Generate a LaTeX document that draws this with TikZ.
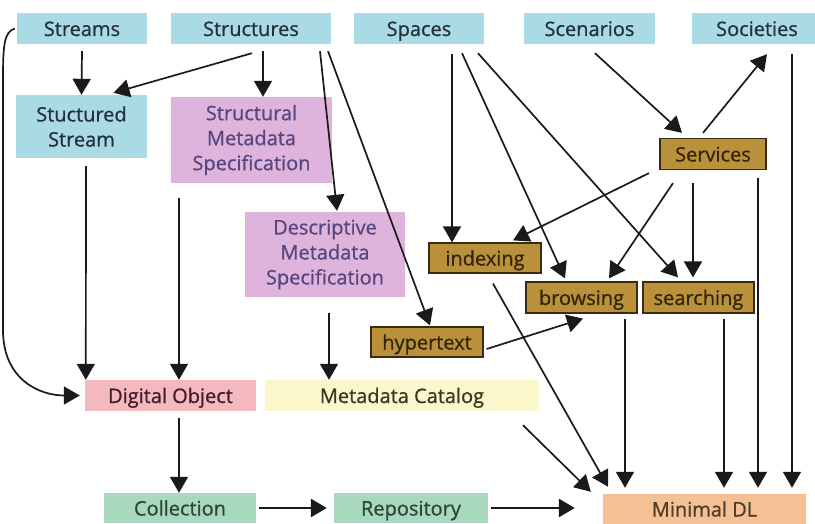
\documentclass[tikz,border=0pt]{standalone}
\usepackage{fontspec}
\setmainfont{Open Sans}[FakeBold=0.8]
\usepackage{tikz}
\usetikzlibrary{arrows.meta}

\begin{document}
\begin{tikzpicture}[x=1pt,y=-1pt,
  box/.style={inner sep=0pt,align=center,font=\fontsize{20}{25}\selectfont},
  one/.style={text height=19pt,text depth=4pt},
  bluebox/.style={box,fill=lblue,text=tblue},
  pinkbox/.style={box,fill=lpink,text=tpink},
  brownbox/.style={box,one,fill=brown,draw=bdark,line width=1.2pt,text=tbrown},
  arr/.style={draw=adark,line width=1.7pt,-{Triangle[width=18pt,length=16pt]}},
  fat/.style={arr,line width=2.6pt}]
\definecolor{lblue}{RGB}{170,218,228}
\definecolor{tblue}{RGB}{36,48,58}
\definecolor{lpink}{RGB}{222,180,220}
\definecolor{tpink}{RGB}{88,70,126}
\definecolor{brown}{RGB}{184,145,58}
\definecolor{bdark}{RGB}{58,42,18}
\definecolor{tbrown}{RGB}{52,36,10}
\definecolor{dpink}{RGB}{244,185,190}
\definecolor{tdpink}{RGB}{66,28,42}
\definecolor{lyellow}{RGB}{250,247,205}
\definecolor{tyellow}{RGB}{56,56,32}
\definecolor{lgreen}{RGB}{168,216,190}
\definecolor{tgreen}{RGB}{42,72,56}
\definecolor{lorange}{RGB}{245,192,148}
\definecolor{torange}{RGB}{76,62,42}
\definecolor{adark}{RGB}{26,26,26}
\useasboundingbox (0,0) rectangle (815,524);
\node[bluebox,one,minimum width=130pt,minimum height=31pt] (v1) at (82,28.5) {Streams};
\node[bluebox,one,minimum width=160pt,minimum height=31pt] (v2) at (251,28.5) {Structures};
\node[bluebox,one,minimum width=130pt,minimum height=31pt] (v3) at (419,28.5) {Spaces};
\node[bluebox,one,minimum width=131pt,minimum height=31pt] (v4) at (589.5,28.5) {Scenarios};
\node[bluebox,one,minimum width=130pt,minimum height=31pt] (v5) at (757,28.5) {Societies};
\node[bluebox,minimum width=131pt,minimum height=63pt] (v6) at (81.5,126.5) {Stuctured\\Stream};
\node[pinkbox,minimum width=161pt,minimum height=86pt] (v7) at (251.5,140) {Structural\\Metadata\\Specification};
\node[pinkbox,minimum width=160pt,minimum height=85pt] (v8) at (325,254.5) {Descriptive\\Metadata\\Specification};
\node[brownbox,minimum width=106pt,minimum height=31pt] (v9) at (713,154) {Services};
\node[brownbox,minimum width=112pt,minimum height=30pt] (v10) at (485,258) {indexing};
\node[brownbox,minimum width=111pt,minimum height=31pt] (v11) at (581.5,297.5) {browsing};
\node[brownbox,minimum width=111pt,minimum height=31pt] (v12) at (698.5,297.5) {searching};
\node[brownbox,minimum width=112pt,minimum height=30pt] (v13) at (427,342) {hypertext};
\node[box,one,fill=dpink,text=tdpink,minimum width=171pt,minimum height=31pt] (v14) at (170.5,395.5) {Digital Object};
\node[box,one,fill=lyellow,text=tyellow,minimum width=274pt,minimum height=31pt] (v15) at (402,395.5) {Metadata Catalog};
\node[box,one,fill=lgreen,text=tgreen,minimum width=152pt,minimum height=30pt] (v16) at (180,508) {Collection};
\node[box,one,fill=lgreen,text=tgreen,minimum width=154pt,minimum height=30pt] (v17) at (411,508) {Repository};
\node[box,one,fill=lorange,text=torange,minimum width=203pt,minimum height=30pt] (v18) at (704.5,509) {Minimal DL};
\draw[arr] ([shift={(0,7)}]v1.south) -- (v6.north);
\draw[arr] ([shift={(1,9)}]v2.south) -- ([shift={(32,-2)}]v6.north);
\draw[arr] ([shift={(12,7)}]v2.south) -- ([shift={(11.5,0)}]v7.north);
\draw[arr] ([shift={(69,7)}]v2.south) -- ([shift={(12,-1)}]v8.north);
\draw[arr] ([shift={(77,7)}]v2.south) -- ([shift={(3,-1)}]v13.north);
\draw[arr] ([shift={(-2,0)}]v1.west) .. controls (4,32) and (3,45) .. (3,80) -- (3,330) .. controls (3,380) and (40,395.5) .. ([shift={(-5,0)}]v14.west);
\draw[arr] ([shift={(4.5,8)}]v6.south) -- ([shift={(1,0)}]v14.north west);
\draw[arr] ([shift={(-72.5,15)}]v7.south) -- ([shift={(8.5,0)}]v14.north);
\draw[arr] ([shift={(4,16)}]v8.south) -- ([shift={(-73,0)}]v15.north);
\draw[arr] ([shift={(33,10)}]v3.south) -- ([shift={(-33,0)}]v10.north);
\draw[arr] ([shift={(43,9)}]v3.south) -- ([shift={(-16.5,-3)}]v11.north);
\draw[arr] ([shift={(59,9)}]v3.south) -- ([shift={(-20.5,-4)}]v12.north);
\draw[arr] ([shift={(5.5,9)}]v4.south) -- ([shift={(-31,-5)}]v9.north);
\draw[arr] ([shift={(-10,-5)}]v9.north) -- ([shift={(10,10)}]v5.south);
\draw[arr] ([shift={(-64,3)}]v9.south) -- ([shift={(28,-2)}]v10.north);
\draw[arr] ([shift={(-40,13)}]v9.south) -- ([shift={(27.5,-3)}]v11.north);
\draw[arr] ([shift={(-20,13)}]v9.south) -- ([shift={(-5.5,-4)}]v12.north);
\draw[arr] ([shift={(45,8)}]v9.south) -- ([shift={(53.5,-6)}]v18.north);
\draw[arr] ([shift={(35,10)}]v5.south) -- ([shift={(87.5,-6)}]v18.north);
\draw[arr] ([shift={(8,10)}]v10.south) -- ([shift={(-96.5,-7)}]v18.north);
\draw[arr] ([shift={(3,7)}]v13.east) -- ([shift={(1.5,5)}]v11.south);
\draw[arr] ([shift={(43.5,5)}]v11.south) -- ([shift={(-79.5,-6)}]v18.north);
\draw[arr] ([shift={(25.5,5)}]v12.south) -- ([shift={(19.5,-6)}]v18.north);
\draw[arr] ([shift={(121,14)}]v15.south) -- ([shift={(-12,-2)}]v18.north west);
\draw[arr] ([shift={(8.5,7)}]v14.south) -- ([shift={(-1,0)}]v16.north);
\draw[fat] ([shift={(3,0)}]v16.east) -- ([shift={(-7,0)}]v17.west);
\draw[fat] ([shift={(3,0)}]v17.east) -- ([shift={(-28,-1)}]v18.west);
\end{tikzpicture}
\end{document}
